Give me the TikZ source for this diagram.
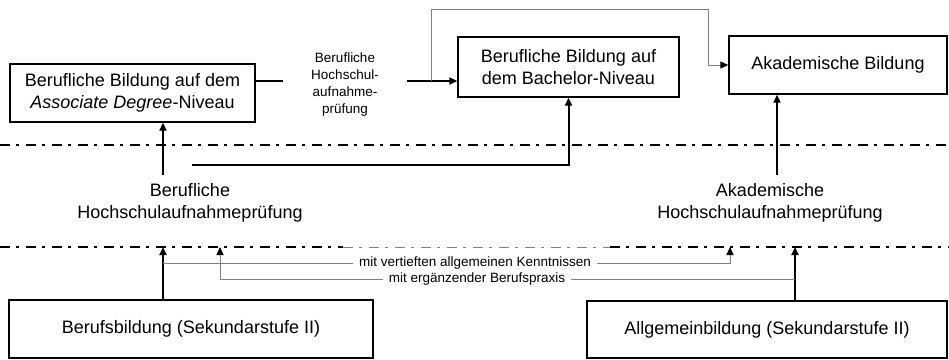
\documentclass[tikz,border=0pt]{standalone}
\usepackage{fontspec}
\setmainfont{Liberation Sans}
\usetikzlibrary{arrows.meta,calc}

\begin{document}
\begin{tikzpicture}[x=1pt,y=-1pt,
	box/.style={draw,line width=1.4pt,align=center,inner sep=0pt,font=\fontsize{18}{22}\selectfont},
	big/.style={align=center,font=\fontsize{18}{22}\selectfont},
	small/.style={align=center,font=\fontsize{13.5}{17}\selectfont},
	thickline/.style={line width=2pt},
	thickarrow/.style={line width=2pt,-{Triangle[length=8pt,width=7pt]}},
	thinline/.style={line width=1pt,gray},
	thinarrow/.style={line width=1pt,gray,-{Triangle[length=8pt,width=7pt,black]}},
	sepline/.style={line width=2.5pt,dash pattern=on 10pt off 6pt on 3pt off 7pt}]

% frame %{{{2

	\useasboundingbox (0,0) rectangle (949,359);

% boxes %{{{2

	\node[box,minimum width=245pt,minimum height=58pt] (assoc) at (132.5,93)
		{Berufliche Bildung auf dem\\\textit{Associate Degree}-Niveau};
	\node[box,minimum width=221pt,minimum height=60pt] (bachelor) at (568.5,67)
		{Berufliche Bildung auf\\dem Bachelor-Niveau};
	\node[box,minimum width=218pt,minimum height=58pt] (akad) at (838,65)
		{Akademische Bildung};
	\node[box,minimum width=364pt,minimum height=58pt] (berufs) at (191,329)
		{Berufsbildung (Sekundarstufe II)};
	\node[box,minimum width=360pt,minimum height=57pt] (allgemein) at (767,329.5)
		{Allgemeinbildung (Sekundarstufe II)};

% labels %{{{2

	\node[small,inner xsep=28pt] (hsapA) at (345,85)
		{Berufliche\\Hochschul-\\aufnahme-\\prüfung};
	\node[big] (hsapB) at (190,203) {Berufliche\\Hochschulaufnahmeprüfung};
	\node[big] (hsapC) at (770,203) {Akademische\\Hochschulaufnahmeprüfung};
	\node[small,inner xsep=6pt] (vertieft) at (475,263)
		{mit vertieften allgemeinen Kenntnissen};
	\node[small,inner xsep=6pt] (ergaenz) at (477,279)
		{mit ergänzender Berufspraxis};

% coordinates %{{{2

	\coordinate (row) at (0,81);
	\coordinate (lowA) at (163,247);
	\coordinate (upA) at (163,175);
	\coordinate (bstart) at (192,165);
	\coordinate (tbranch) at (431,81);
	\coordinate (ttop) at (708,9);
	\coordinate (upB) at (777,175);
	\coordinate (lowB) at (795,247);
	\coordinate (lowC) at (730,247);
	\coordinate (lowD) at (220,247);

% separators %{{{2

	\draw[sepline] (0,145) -- (949,145);
	\draw[sepline] (0,247) -- (343,247);
	\draw[sepline,line width=1pt,gray] (343,247) -- (610,247);
	\draw[sepline] (610,247) -- (949,247);

% connectors %{{{2

	\draw[thickarrow] (berufs.north -| lowA) -- (lowA);
	\draw[thickarrow] (upA) -- (assoc.south -| upA);
	\draw[thickarrow] (bstart) -| (bachelor.south);
	\draw[thickline] (assoc.east |- row) -- (hsapA.west |- row);
	\draw[thickarrow] (hsapA.east |- row) -- (bachelor.west |- row);
	\draw[thinarrow] (tbranch) |- (ttop) |- (akad.west);
	\draw[thickarrow] (upB) -- (akad.south -| upB);
	\draw[thickarrow] (allgemein.north -| lowB) -- (lowB);

	\draw[thinline] (lowA |- vertieft) -- (vertieft.west);
	\draw[thinarrow] (vertieft.east) -| (lowC);
	\draw[thinline] (lowB |- ergaenz) -- (ergaenz.east);
	\draw[thinarrow] (ergaenz.west) -| (lowD);

% closing %{{{2

\end{tikzpicture}
\end{document}
